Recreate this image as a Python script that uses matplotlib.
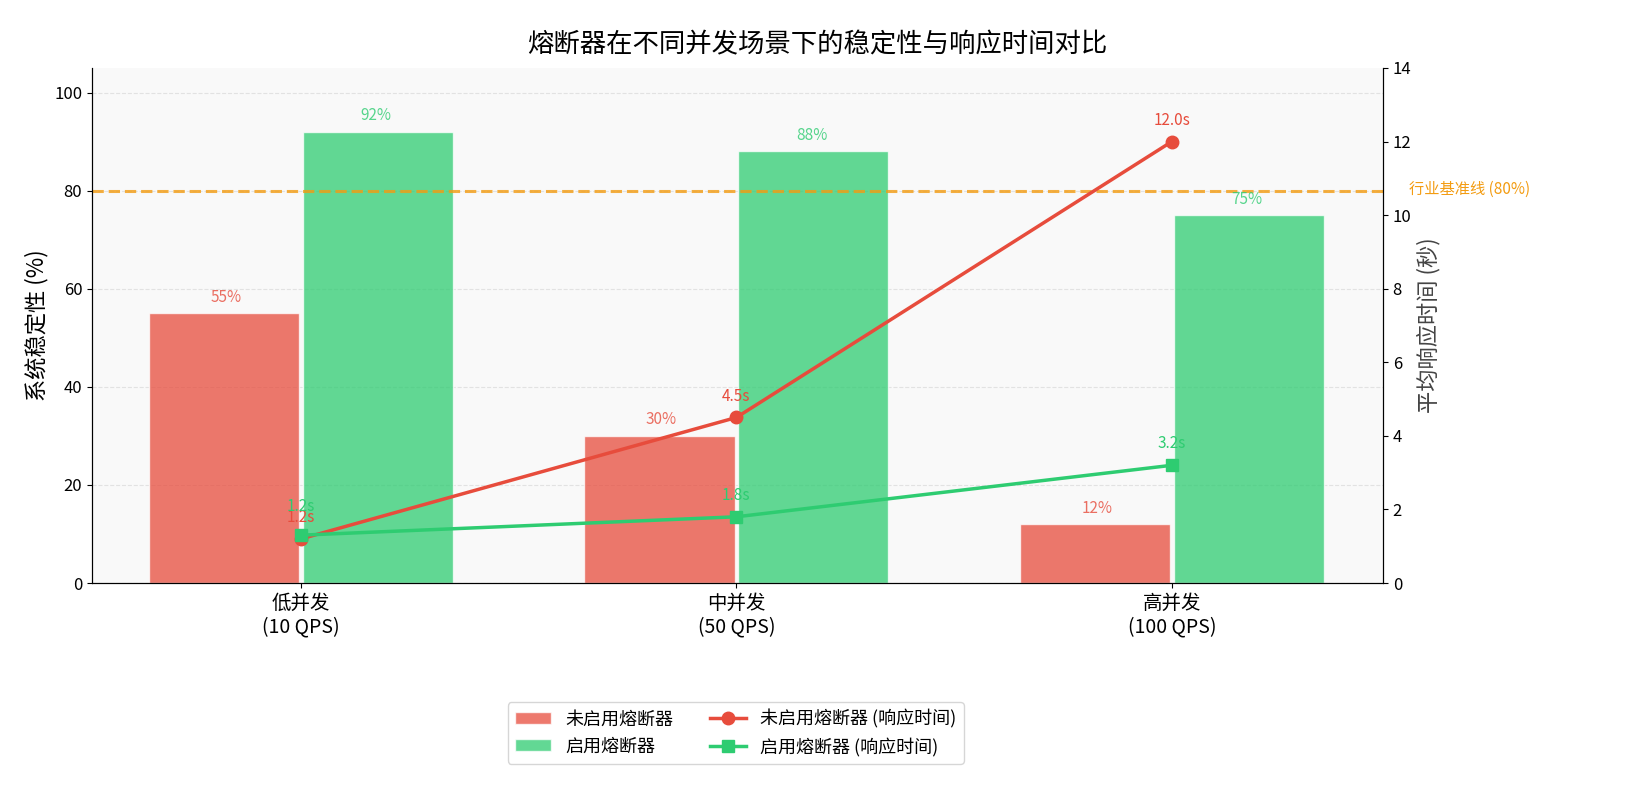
import matplotlib
matplotlib.use("Agg")
import matplotlib.pyplot as plt
import numpy as np

plt.rcParams['font.family'] = ['Noto Sans CJK SC', 'DejaVu Sans']

categories = ['低并发\n(10 QPS)', '中并发\n(50 QPS)', '高并发\n(100 QPS)']
stab_off = [55, 30, 12]
stab_on = [92, 88, 75]
resp_off = [1.2, 4.5, 12.0]
resp_on = [1.3, 1.8, 3.2]
resp_on_labels = [1.2, 1.8, 3.2]

red = '#e74c3c'
green = '#2ecc71'
orange = '#f39c12'

fig = plt.figure(figsize=(16.35, 7.88), dpi=100)
ax = fig.add_axes([92/1635, 1-583/788, (1383-92)/1635, (583-68)/788])
ax.set_facecolor('#f9f9f9')
x = np.arange(len(categories))
w = 0.345

b1 = ax.bar(x - w/2 - 0.004, stab_off, w, color=red, alpha=0.75, edgecolor='white', label='未启用熔断器')
b2 = ax.bar(x + w/2 + 0.004, stab_on, w, color=green, alpha=0.75, edgecolor='white', label='启用熔断器')
for xi, v in zip(x - w/2, stab_off):
    ax.text(xi, v + 1.5, f'{v}%', ha='center', va='bottom', color=red, alpha=0.8, fontsize=11)
for xi, v in zip(x + w/2, stab_on):
    ax.text(xi, v + 1.5, f'{v}%', ha='center', va='bottom', color=green, alpha=0.8, fontsize=11)

ax.axhline(80, color=orange, ls='--', lw=2.2, alpha=0.8)
ax.text(1.02, 80/105 + 0.003, '行业基准线 (80%)', transform=ax.transAxes, color=orange,
        fontsize=11, ha='left', va='center')

ax.set_ylim(0, 105)
ax.set_xlim(-0.48, 2.485)
ax.set_xticks(x)
ax.set_xticklabels(categories, fontsize=14)
ax.tick_params(axis='y', labelsize=12)
ax.set_ylabel('系统稳定性 (%)', fontsize=16)
ax.yaxis.grid(True, ls='--', alpha=0.3)
ax.set_axisbelow(True)
ax.spines['top'].set_visible(False)

ax2 = ax.twinx()
l1, = ax2.plot(x, resp_off, color=red, marker='o', lw=2.5, ms=9, label='未启用熔断器 (响应时间)')
l2, = ax2.plot(x, resp_on, color=green, marker='s', lw=2.5, ms=9, label='启用熔断器 (响应时间)')
for xi, v in zip(x, resp_off):
    ax2.text(xi, v + 0.35, f'{v:.1f}s', ha='center', va='bottom', color=red, fontsize=11)
for i, (xi, v, t) in enumerate(zip(x, resp_on, resp_on_labels)):
    off = 0.55 if i == 0 else 0.35
    ax2.text(xi, v + off, f'{t:.1f}s', ha='center', va='bottom', color=green, fontsize=11)
ax2.set_ylim(0, 14)
ax2.tick_params(axis='y', labelsize=12)
ax2.set_ylabel('平均响应时间 (秒)', fontsize=16, color='#444444')
ax2.spines['top'].set_visible(False)
ax2.set_xlim(-0.48, 2.485)

fig.legend([b1, b2, l1, l2], [b1.get_label(), b2.get_label(), l1.get_label(), l2.get_label()],
           loc='center', bbox_to_anchor=(0.45, 0.07), ncol=2, fontsize=13, frameon=True)
fig.suptitle('熔断器在不同并发场景下的稳定性与响应时间对比', fontsize=19, y=0.96)

fig.savefig('out.png', dpi=100)
